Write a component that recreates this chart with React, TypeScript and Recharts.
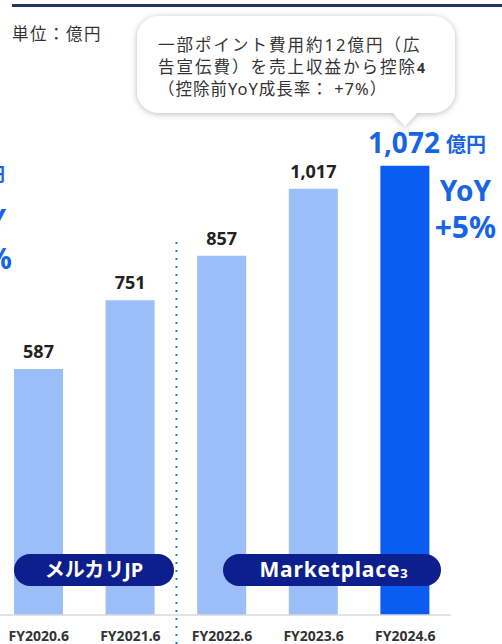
import { BarChart, Bar, XAxis, YAxis, Cell, LabelList } from "recharts";

const categories = ["FY2020.6", "FY2021.6", "FY2022.6", "FY2023.6", "FY2024.6"];
const revenue = [587, 751, 857, 1017, 1072];
const highlightIndex = 4;
const yoyLines = ["YoY", "+5%"];
const unitLabel = "単位：億円";
const calloutLines = ["一部ポイント費用約12億円（広", "告宣伝費）を売上収益から控除", "（控除前YoY成長率： +7%）"];
const prevPanelLines = ["億円", "YoY", "+4%"];

const data = categories.map((name, i) => ({ name, value: revenue[i] }));

const FONT = "'Noto Sans', 'Noto Sans CJK JP', sans-serif";
const LIGHT = "#9bbef8";
const STRONG = "#0a5df0";
const ACCENT = "#1764e8";
const NAVY = "#0c1f8c";

const fmt = (v: number) => v.toLocaleString("en-US");

function ValueLabel(props: any) {
  const { x, y, width, value, index } = props;
  const cx = Number(x) + Number(width) / 2;
  const top = Number(y);
  const isHi = index === highlightIndex || value === revenue[highlightIndex];
  if (!isHi) {
    return (
      <text x={cx} y={top - 11} textAnchor="middle" fontFamily={FONT} fontWeight={700} fontSize={18} fill="#222">
        {fmt(value)}
      </text>
    );
  }
  const right = Number(x) + Number(width);
  return (
    <g fontFamily={FONT} fontWeight={700} fill={ACCENT}>
      <text x={cx - 1} y={top - 13} textAnchor="middle" fontSize={28}>
        {fmt(value)}
      </text>
      <text x={cx + 41} y={top - 14} fontSize={20}>
        億円
      </text>
      <text x={right + 36} y={top + 35} textAnchor="middle" fontSize={28}>
        {yoyLines[0]}
      </text>
      <text x={right + 36} y={top + 72} textAnchor="middle" fontSize={30}>
        {yoyLines[1]}
      </text>
    </g>
  );
}

function Tick(props: any) {
  const { x, y, payload } = props;
  return (
    <text x={x} y={y} dy={18} textAnchor="middle" fontFamily={FONT} fontWeight={700} fontSize={14} fill="#333">
      {payload.value}
    </text>
  );
}

export default function App() {
  return (
    <div style={{ position: "absolute", left: 0, top: 0, width: 502, height: 644, overflow: "hidden", background: "#fff" }}>
      <BarChart width={502} height={644} data={data} margin={{ top: 112, right: 51, bottom: 0, left: -7 }}>
        <XAxis
          dataKey="name"
          height={29}
          axisLine={{ stroke: "#d9d9d9", strokeWidth: 1.5 }}
          tickLine={false}
          tick={<Tick />}
          interval={0}
        />
        <YAxis hide domain={[0, 1200]} />
        <Bar dataKey="value" barSize={49} isAnimationActive={false}>
          {data.map((d, i) => (
            <Cell key={d.name} fill={i === highlightIndex ? STRONG : LIGHT} />
          ))}
          <LabelList dataKey="value" content={<ValueLabel />} />
        </Bar>
      </BarChart>
      <svg width={502} height={644} style={{ position: "absolute", left: 0, top: 0, pointerEvents: "none" }}>
        <defs>
          <filter id="shadow" x="-10%" y="-20%" width="120%" height="150%">
            <feDropShadow dx="0" dy="1" stdDeviation="3" floodColor="#000" floodOpacity="0.28" />
          </filter>
        </defs>
        <rect x={12} y={4} width={490} height={3} fill="#1d3866" />
        <text x={12} y={40} fontFamily={FONT} fontSize={16.5} letterSpacing={1.5} fill="#333">
          {unitLabel}
        </text>
        <path
          d="M 159 16 H 433 A 22 22 0 0 1 455 38 V 91 A 22 22 0 0 1 433 113 H 417 L 405 126 L 393 113 H 159 A 22 22 0 0 1 137 91 V 38 A 22 22 0 0 1 159 16 Z"
          fill="#fff"
          filter="url(#shadow)"
        />
        <g fontFamily={FONT} fontSize={16.5} letterSpacing={2} fill="#333">
          <text x={158} y={51}>{calloutLines[0]}</text>
          <text x={158} y={73}>
            {calloutLines[1]}
            <tspan fontWeight={700} fontSize={14} letterSpacing={0}>4</tspan>
          </text>
          <text x={158} y={95} letterSpacing={1}>{calloutLines[2]}</text>
        </g>
        <g fontFamily={FONT} fontWeight={700} fill={ACCENT}>
          <text x={5} y={181} textAnchor="end" fontSize={18}>{prevPanelLines[0]}</text>
          <text x={6} y={230} textAnchor="end" fontSize={28}>{prevPanelLines[1]}</text>
          <text x={12} y={269} textAnchor="end" fontSize={29}>{prevPanelLines[2]}</text>
        </g>
        <line x1={176.5} y1={242} x2={176.5} y2={644} stroke="#2a78b8" strokeWidth={2} strokeDasharray="2 6" />
        <rect x={14} y={554} width={160} height={32} rx={16} fill={NAVY} />
        <text x={94} y={577} textAnchor="middle" fontFamily={FONT} fontWeight={700} fontSize={20} fill="#fff">
          メルカリJP
        </text>
        <rect x={223} y={554} width={218} height={32} rx={16} fill={NAVY} />
        <text x={334} y={577} textAnchor="middle" fontFamily={FONT} fontWeight={700} fontSize={21} letterSpacing={0.8} fill="#fff">
          Marketplace
          <tspan fontSize={13} dy={1}>3</tspan>
        </text>
      </svg>
    </div>
  );
}
